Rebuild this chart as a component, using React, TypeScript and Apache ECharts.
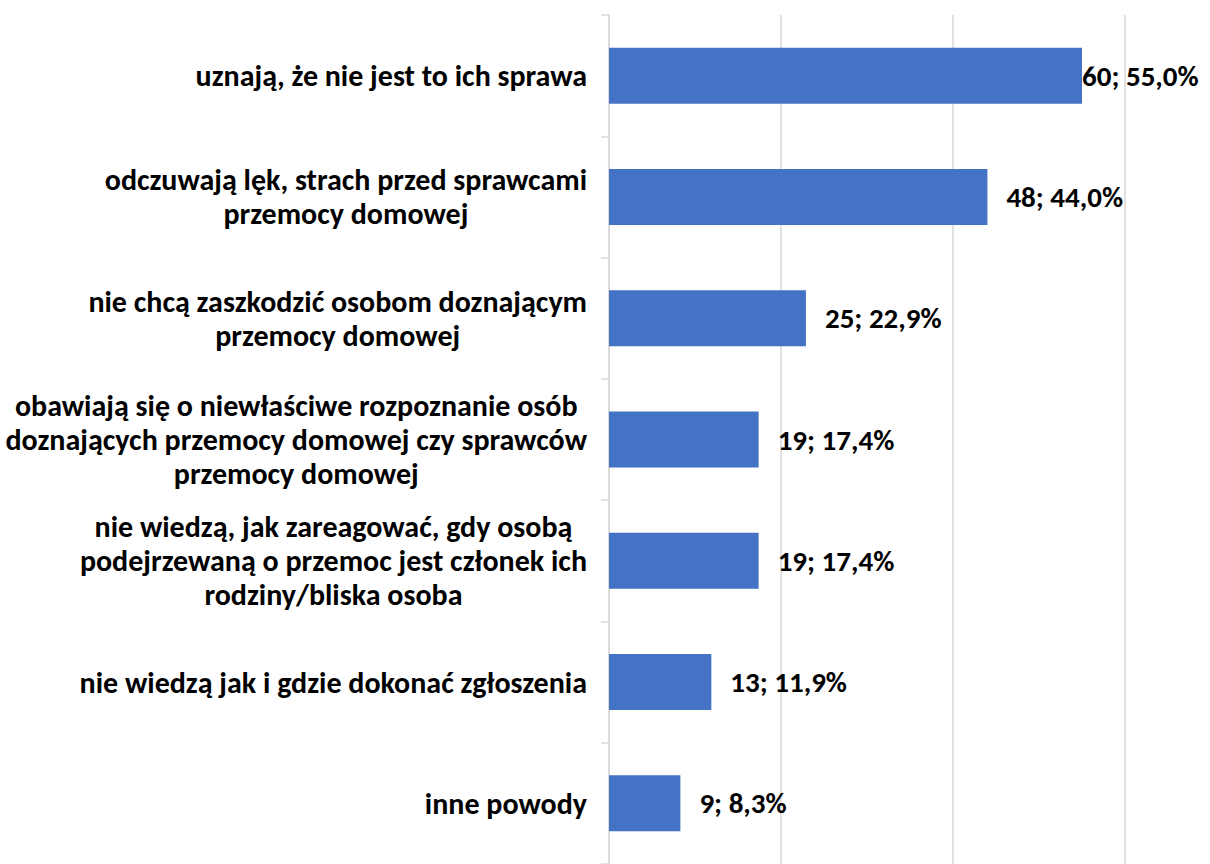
import React, { useEffect, useRef } from "react";
import * as echarts from "echarts";

const categories: string[] = [
  "uznają, że nie jest to ich sprawa",
  "odczuwają lęk, strach przed sprawcami\nprzemocy domowej",
  "nie chcą zaszkodzić osobom doznającym\nprzemocy domowej",
  "obawiają się o niewłaściwe rozpoznanie osób\ndoznających przemocy domowej czy sprawców\nprzemocy domowej",
  "nie wiedzą, jak zareagować, gdy osobą\npodejrzewaną o przemoc jest członek ich\nrodziny/bliska osoba",
  "nie wiedzą jak i gdzie dokonać zgłoszenia",
  "inne powody",
];
const counts: number[] = [60, 48, 25, 19, 19, 13, 9];
const percents: number[] = [55.0, 44.0, 22.9, 17.4, 17.4, 11.9, 8.3];

const FONT = "Carlito, Lato, 'Liberation Sans', sans-serif";

export default function App() {
  const ref = useRef<HTMLDivElement>(null);
  useEffect(() => {
    if (!ref.current) return;
    const chart = echarts.init(ref.current, undefined, { renderer: "svg" });
    const fmtPct = (v: number) => v.toFixed(1).replace(".", ",") + "%";
    chart.setOption({
      animation: false,
      backgroundColor: "#ffffff",
      grid: { left: 609, top: 15, width: 516, height: 854, containLabel: false },
      xAxis: {
        type: "value",
        min: 0,
        max: 60,
        interval: 20,
        axisLabel: { show: false },
        axisLine: { show: false },
        axisTick: { show: false },
        splitLine: { show: true, lineStyle: { color: "#d9d9d9", width: 1.5 } },
      },
      yAxis: {
        type: "category",
        inverse: true,
        data: categories,
        axisLine: { show: true, lineStyle: { color: "#d9d9d9", width: 1.5 } },
        axisTick: { show: true, length: 8, lineStyle: { color: "#d9d9d9", width: 1.5 } },
        axisLabel: {
          margin: 22,
          formatter: (v: string) =>
            v
              .split("\n")
              .map((l) => `{c|${l}}`)
              .join("\n"),
          rich: {
            c: {
              align: "center",
              fontFamily: FONT,
              fontWeight: "bold",
              fontSize: 30,
              lineHeight: 34,
              color: "#000000",
            },
          },
        },
      },
      series: [
        {
          type: "bar",
          barWidth: 56,
          itemStyle: { color: "#4472C4" },
          data: percents.map((p, i) => ({
            value: p,
            label: i === 0 ? { distance: 0 } : undefined,
          })),
          label: {
            show: true,
            position: "right",
            distance: 19,
            fontFamily: FONT,
            fontWeight: "bold",
            fontSize: 29,
            color: "#000000",
            formatter: (p: any) => `${counts[p.dataIndex]}; ${fmtPct(percents[p.dataIndex])}`,
          },
        },
      ],
    });
    return () => chart.dispose();
  }, []);
  return (
    <div
      ref={ref}
      style={{ position: "fixed", left: 0, top: 0, width: 1210, height: 864, background: "#fff" }}
    />
  );
}
